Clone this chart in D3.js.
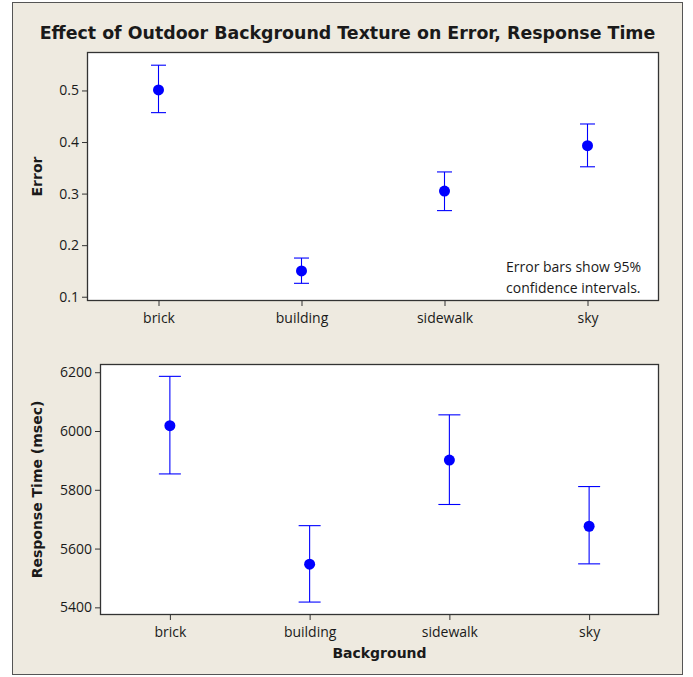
<!DOCTYPE html>
<html>
<head>
<meta charset="utf-8">
<script src="https://cdn.jsdelivr.net/npm/d3@7"></script>
<style>
  html, body { margin: 0; padding: 0; background: #ffffff; }
  svg { display: block; }
  text { fill: #1a1a1a; }
</style>
</head>
<body>
<svg id="chart" width="693" height="677"></svg>
<script>
// ---- data ----
const categories = ["brick", "building", "sidewalk", "sky"];
const errorMean  = [0.501, 0.150, 0.305, 0.393];
const errorLow   = [0.457, 0.126, 0.267, 0.352];
const errorHigh  = [0.549, 0.175, 0.342, 0.435];
const errorTicks = [0.1, 0.2, 0.3, 0.4, 0.5];

const rtMean = [6018, 5547, 5901, 5676];
const rtLow  = [5854, 5418, 5750, 5548];
const rtHigh = [6186, 5678, 6055, 5811];
const rtTicks = [5400, 5600, 5800, 6000, 6200];

const titleText = "Effect of Outdoor Background Texture on Error, Response Time";
const noteLines = ["Error bars show 95%", "confidence intervals."];

// ---- styles ----
const regFont = "'Open Sans', sans-serif";
const boldFont = "'DejaVu Sans', sans-serif";
const bg = "#EEEAE0";

const svg = d3.select("#chart");

svg.append("rect").attr("x", 12.5).attr("y", 2.5).attr("width", 670).attr("height", 672)
  .attr("fill", bg).attr("stroke", "#555").attr("stroke-width", 1);

svg.append("text").attr("x", 347.5).attr("y", 39).attr("text-anchor", "middle")
  .attr("font-family", boldFont).attr("font-size", 17.4).attr("font-weight", "bold").text(titleText);

function panel(opts) {
  const {left, right, top, bottom, domain, ticks, fmt, mean, low, high, capW, ylabel, xlabel} = opts;
  const x = d3.scalePoint().domain(categories).range([left, right]).padding(0.5);
  const y = d3.scaleLinear().domain(domain).range([bottom, top]);
  const g = svg.append("g");

  g.append("rect").attr("x", left).attr("y", top).attr("width", right - left).attr("height", bottom - top)
    .attr("fill", "#ffffff");

  const yAxis = g.append("g").attr("transform", `translate(${left},0)`)
    .call(d3.axisLeft(y).tickValues(ticks).tickFormat(fmt).tickSizeOuter(0).tickSize(5).tickPadding(3));
  yAxis.select(".domain").remove();
  yAxis.selectAll("line").attr("stroke", "#333");
  yAxis.selectAll("text").attr("font-size", 14).attr("fill", "#1a1a1a")
    .attr("font-family", regFont);

  const xAxis = g.append("g").attr("transform", `translate(0,${bottom})`)
    .call(d3.axisBottom(x).tickSizeOuter(0).tickSize(5));
  xAxis.select(".domain").remove();
  xAxis.selectAll("line").attr("stroke", "#333");
  xAxis.selectAll("text").attr("font-size", 14).attr("fill", "#1a1a1a")
    .attr("font-family", regFont).attr("y", 22).attr("dy", 0);

  g.append("rect").attr("x", left + 0.5).attr("y", top + 0.5)
    .attr("width", right - left - 1).attr("height", bottom - top - 1)
    .attr("fill", "none").attr("stroke", "#333").attr("stroke-width", 1.3);

  const data = categories.map((c, i) => ({c, m: mean[i], lo: low[i], hi: high[i]}));
  const eb = g.append("g").attr("stroke", "#0000FF").attr("stroke-width", 1.1).attr("fill", "none");
  eb.selectAll(".v").data(data).join("line")
    .attr("x1", d => x(d.c)).attr("x2", d => x(d.c))
    .attr("y1", d => y(d.lo)).attr("y2", d => y(d.hi));
  eb.selectAll(".hi").data(data).join("line")
    .attr("x1", d => x(d.c) - capW / 2).attr("x2", d => x(d.c) + capW / 2)
    .attr("y1", d => y(d.hi)).attr("y2", d => y(d.hi));
  eb.selectAll(".lo").data(data).join("line")
    .attr("x1", d => x(d.c) - capW / 2).attr("x2", d => x(d.c) + capW / 2)
    .attr("y1", d => y(d.lo)).attr("y2", d => y(d.lo));
  g.selectAll(".pt").data(data).join("circle")
    .attr("cx", d => x(d.c)).attr("cy", d => y(d.m)).attr("r", 5.5).attr("fill", "#0000FF");

  g.append("text").attr("transform", `translate(42,${(top + bottom) / 2}) rotate(-90)`)
    .attr("text-anchor", "middle").attr("font-family", boldFont).attr("font-size", 14)
    .attr("font-weight", "bold").text(ylabel);

  if (xlabel) {
    g.append("text").attr("x", (left + right) / 2).attr("y", 657.5).attr("text-anchor", "middle")
      .attr("font-family", boldFont).attr("font-size", 14).attr("font-weight", "bold").text(xlabel);
  }
  return {x, y, g};
}

panel({left: 87, right: 659, top: 52, bottom: 301, domain: [0.0917, 0.5746], ticks: errorTicks,
  fmt: d3.format(".1f"), mean: errorMean, low: errorLow, high: errorHigh, capW: 15, ylabel: "Error"});

panel({left: 100, right: 659, top: 364, bottom: 615, domain: [5374, 6228], ticks: rtTicks,
  fmt: d3.format("d"), mean: rtMean, low: rtLow, high: rtHigh, capW: 22,
  ylabel: "Response Time (msec)", xlabel: "Background"});

const note = svg.append("text").attr("font-family", regFont).attr("font-size", 14);
noteLines.forEach((t, i) => note.append("tspan").attr("x", 506).attr("y", 272 + i * 21.3).text(t));
</script>
</body>
</html>
